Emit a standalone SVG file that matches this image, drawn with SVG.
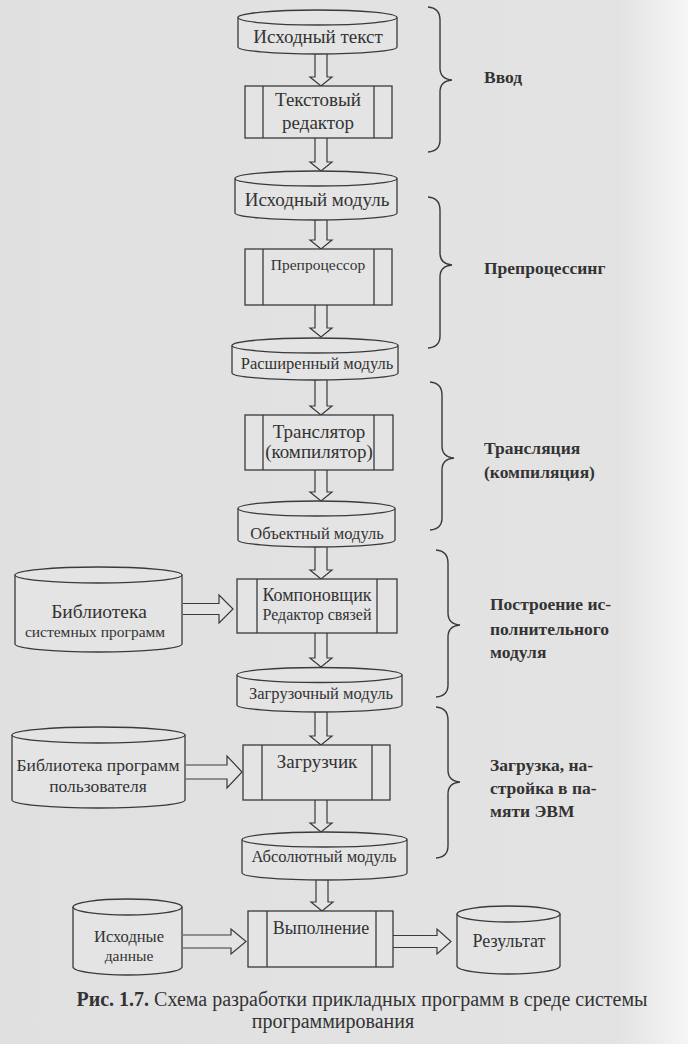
<svg xmlns="http://www.w3.org/2000/svg" width="688" height="1044" viewBox="0 0 688 1044">
<defs>
<linearGradient id="paper" x1="0" y1="0" x2="1" y2="0">
<stop offset="0" stop-color="#e0e0e0"/>
<stop offset="0.9" stop-color="#e3e3e3"/>
<stop offset="0.97" stop-color="#f0f0f0"/>
<stop offset="1" stop-color="#f6f6f6"/>
</linearGradient>
<style>
.sh{fill:#e4e4e4;stroke:#3a3a3a;stroke-width:1.3}
.ln{fill:none;stroke:#3a3a3a;stroke-width:1.3}
.arr{fill:#e4e4e4;stroke:#3a3a3a;stroke-width:1.2;stroke-linejoin:miter}
.br{fill:none;stroke:#3a3a3a;stroke-width:1.4}
.t{font-family:"Liberation Serif","DejaVu Serif",serif;font-size:18px;fill:#333;text-anchor:middle}
.l{font-size:19px}
.s{font-size:15.5px}
.m{font-size:16.5px}
.b{font-family:"Liberation Serif","DejaVu Serif",serif;font-size:17.5px;font-weight:bold;fill:#333}
.cap{font-family:"Liberation Serif","DejaVu Serif",serif;font-size:20px;fill:#333;text-anchor:middle}
</style>
</defs>
<rect x="0" y="0" width="688" height="1044" fill="url(#paper)"/>

<g id="connectors">
<path class="arr" d="M315,53 L315,77 L310,77 L321,86 L332,77 L327,77 L327,53"/>
<path class="arr" d="M315,138 L315,162 L310,162 L321,171 L332,162 L327,162 L327,138"/>
<path class="arr" d="M315,220 L315,240 L310,240 L321,249 L332,240 L327,240 L327,220"/>
<path class="arr" d="M315,305 L315,328 L310,328 L321,337 L332,328 L327,328 L327,305"/>
<path class="arr" d="M315,380 L315,406 L310,406 L321,415 L332,406 L327,406 L327,380"/>
<path class="arr" d="M315,470 L315,492 L310,492 L321,501 L332,492 L327,492 L327,470"/>
<path class="arr" d="M315,546 L315,570 L310,570 L321,579 L332,570 L327,570 L327,546"/>
<path class="arr" d="M315,633 L315,658 L310,658 L321,667 L332,658 L327,658 L327,633"/>
<path class="arr" d="M315,711 L315,736 L310,736 L321,745 L332,736 L327,736 L327,711"/>
<path class="arr" d="M315,800 L315,823 L310,823 L321,832 L332,823 L327,823 L327,800"/>
<path class="arr" d="M316,880 L316,902 L311,902 L322,911 L333,902 L328,902 L328,880"/>
<path class="arr" d="M183,603.5 L219,603.5 L219,595 L233,609 L219,623 L219,614.5 L183,614.5"/>
<path class="arr" d="M186,765 L227,765 L227,756 L242,772 L227,788 L227,779 L186,779"/>
<path class="arr" d="M183,935 L231,935 L231,929 L246,941.5 L231,954 L231,948 L183,948"/>
<path class="arr" d="M393,935.5 L437,935.5 L437,929 L451,941.5 L437,954 L437,947.5 L393,947.5"/>
</g>

<g id="n-source-text">
<path class="sh" d="M238,17.5 L238,47 A79.5,7 0 0 0 397,47 L397,17.5"/>
<ellipse class="sh" cx="317.5" cy="17.5" rx="79.5" ry="7.5"/>
<text class="t l" x="318" y="43">Исходный текст</text>
</g>

<g id="n-text-editor">
<rect class="sh" x="245" y="86" width="147" height="52"/>
<path class="ln" d="M263,86 V138 M374,86 V138"/>
<text class="t l" x="318" y="106">Текстовый</text>
<text class="t l" x="318" y="129">редактор</text>
</g>

<g id="n-source-module">
<path class="sh" d="M235,178.5 L235,213 A81,7 0 0 0 397,213 L397,178.5"/>
<ellipse class="sh" cx="316" cy="178.5" rx="81" ry="7.5"/>
<text class="t l" x="317" y="206">Исходный модуль</text>
</g>

<g id="n-preprocessor">
<rect class="sh" x="245" y="249" width="147" height="56"/>
<path class="ln" d="M263,249 V305 M374,249 V305"/>
<text class="t s" x="318" y="270">Препроцессор</text>
</g>

<g id="n-extended-module">
<path class="sh" d="M232,345.5 L232,373 A83,7 0 0 0 398,373 L398,345.5"/>
<ellipse class="sh" cx="315" cy="345.5" rx="83" ry="7.5"/>
<text class="t m" x="317" y="369">Расширенный модуль</text>
</g>

<g id="n-translator">
<rect class="sh" x="245" y="415" width="148" height="55"/>
<path class="ln" d="M263,415 V470 M374,415 V470"/>
<text class="t l" x="319" y="438">Транслятор</text>
<text class="t l" x="319" y="458">(компилятор)</text>
</g>

<g id="n-object-module">
<path class="sh" d="M238,508.5 L238,540 A78.5,7 0 0 0 395,540 L395,508.5"/>
<ellipse class="sh" cx="316.5" cy="508.5" rx="78.5" ry="7.5"/>
<text class="t m" x="317" y="539">Объектный модуль</text>
</g>

<g id="n-syslib">
<path class="sh" d="M15,575 L15,644 A83.5,8 0 0 0 182,644 L182,575"/>
<ellipse class="sh" cx="98.5" cy="575" rx="83.5" ry="8"/>
<text class="t" x="99" y="618" style="font-size:19.5px">Библиотека</text>
<text class="t s" x="95" y="637">системных программ</text>
</g>

<g id="n-linker">
<rect class="sh" x="237" y="579" width="160" height="54"/>
<path class="ln" d="M257,579 V633 M377,579 V633"/>
<text class="t" x="317" y="601">Компоновщик</text>
<text class="t" x="317" y="620" style="font-size:16px">Редактор связей</text>
</g>

<g id="n-load-module">
<path class="sh" d="M237,675 L237,705 A82.5,7 0 0 0 402,705 L402,675"/>
<ellipse class="sh" cx="319.5" cy="675" rx="82.5" ry="7.5"/>
<text class="t m" x="321" y="699">Загрузочный модуль</text>
</g>

<g id="n-userlib">
<path class="sh" d="M12,735 L12,800 A86.5,8 0 0 0 185,800 L185,735"/>
<ellipse class="sh" cx="98.5" cy="735" rx="86.5" ry="8"/>
<text class="t" x="98" y="771" style="font-size:17.5px">Библиотека программ</text>
<text class="t" x="98" y="792" style="font-size:17.5px">пользователя</text>
</g>

<g id="n-loader">
<rect class="sh" x="243" y="745" width="147" height="55"/>
<path class="ln" d="M262,745 V800 M372,745 V800"/>
<text class="t l" x="317" y="768">Загрузчик</text>
</g>

<g id="n-absolute-module">
<path class="sh" d="M242,839.5 L242,873 A82.5,7 0 0 0 407,873 L407,839.5"/>
<ellipse class="sh" cx="324.5" cy="839.5" rx="82.5" ry="7.5"/>
<text class="t m" x="324" y="862">Абсолютный модуль</text>
</g>

<g id="n-input-data">
<path class="sh" d="M73,907 L73,967 A54.5,8 0 0 0 182,967 L182,907"/>
<ellipse class="sh" cx="127.5" cy="907" rx="54.5" ry="8"/>
<text class="t" x="129" y="942" style="font-size:16.5px">Исходные</text>
<text class="t s" x="129" y="961">данные</text>
</g>

<g id="n-execution">
<rect class="sh" x="248" y="911" width="145" height="56"/>
<path class="ln" d="M267,911 V967 M376,911 V967"/>
<text class="t" x="321" y="934">Выполнение</text>
</g>

<g id="n-result">
<path class="sh" d="M457,914 L457,966 A51.5,8 0 0 0 560,966 L560,914"/>
<ellipse class="sh" cx="508.5" cy="914" rx="51.5" ry="8"/>
<text class="t" x="509" y="947">Результат</text>
</g>

<g id="braces">
<path class="br" d="M428,7 Q440,8 440,20 L440,68 Q440,79 452,80 Q440,81 440,92 L440,140 Q440,151 428,152"/>
<path class="br" d="M428,197 Q440,198 440,210 L440,253 Q440,264 452,265 Q440,266 440,277 L440,336 Q440,347 428,348"/>
<path class="br" d="M430,382 Q442,383 442,395 L442,446 Q442,457 454,458 Q442,459 442,470 L442,518 Q442,529 430,530"/>
<path class="br" d="M436,550 Q448,551 448,563 L448,613 Q448,624 460,625 Q448,626 448,637 L448,685 Q448,696 436,697"/>
<path class="br" d="M436,707 Q448,708 448,720 L448,770 Q448,781 460,782 Q448,783 448,794 L448,846 Q448,857 436,858"/>
</g>

<g id="labels">
<text class="b" x="484" y="83">Ввод</text>
<text class="b" x="484" y="274">Препроцессинг</text>
<text class="b" x="484" y="454">Трансляция</text>
<text class="b" x="484" y="478">(компиляция)</text>
<text class="b" x="490" y="610">Построение ис-</text>
<text class="b" x="490" y="635">полнительного</text>
<text class="b" x="490" y="658">модуля</text>
<text class="b" x="490" y="771">Загрузка, на-</text>
<text class="b" x="490" y="794">стройка в па-</text>
<text class="b" x="490" y="817">мяти ЭВМ</text>
</g>

<g id="caption">
<text class="cap" x="362" y="1006"><tspan font-weight="bold">Рис. 1.7.</tspan> Схема разработки прикладных программ в среде системы</text>
<text class="cap" x="333" y="1028">программирования</text>
</g>
</svg>
